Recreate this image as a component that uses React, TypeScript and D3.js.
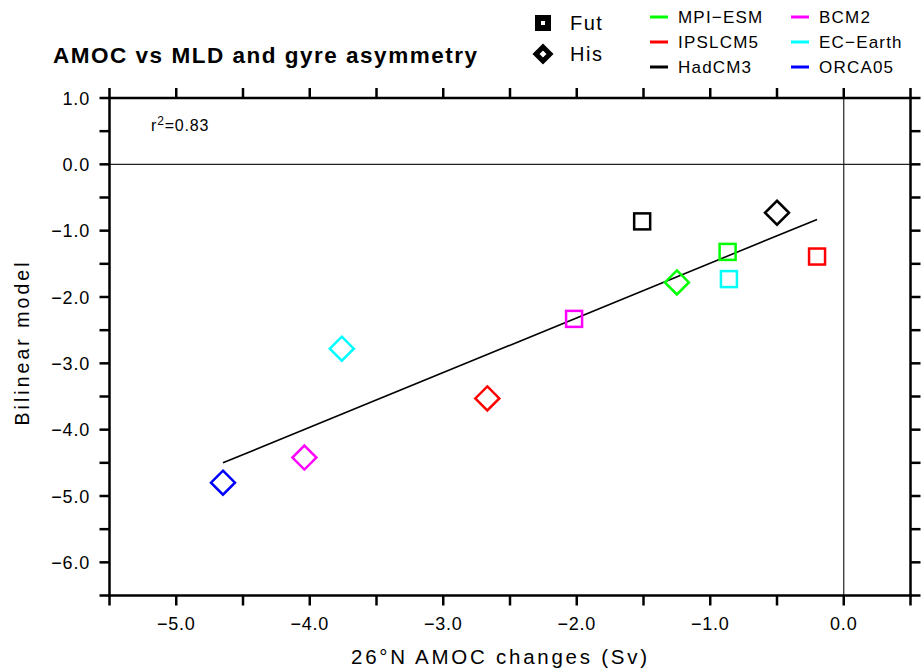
import React from 'react';
import * as d3 from 'd3';

// models and their colours
const models = ['MPI-ESM', 'IPSLCM5', 'HadCM3', 'BCM2', 'EC-Earth', 'ORCA05'];
const modelColors = ['#00ff00', '#ff0000', '#000000', '#ff00ff', '#00ffff', '#0000ff'];

// future (squares) – ORCA05 has no future run
const futX = [-0.87, -0.2, -1.51, -2.02, -0.86, null];
const futY = [-1.32, -1.39, -0.86, -2.33, -1.73, null];

// historical (diamonds)
const hisX = [-1.25, -2.67, -0.5, -4.04, -3.76, -4.65];
const hisY = [-1.78, -3.53, -0.73, -4.42, -2.78, -4.8];

// regression line end points
const fitX = [-4.65, -0.2];
const fitY = [-4.5, -0.83];

const xTicks = [-5, -4, -3, -2, -1, 0];
const yTicks = [1, 0, -1, -2, -3, -4, -5, -6];
const rSquared = '0.83';

const W = 923;
const H = 672;
const FONT = "'Liberation Sans', Arial, sans-serif";

export default function App() {
  const x = d3.scaleLinear().domain([-5.5, 0.5]).range([109.5, 910.5]);
  const y = d3.scaleLinear().domain([1, -6.5]).range([98, 595.5]);

  const minorX = d3.range(-5.5, 0.51, 0.5);
  const minorY = d3.range(-6.5, 1.01, 0.5);
  const fmt = (v: number) => d3.format('.1f')(v).replace('-', '\u2212');

  const line = d3.line<number>().x((d) => x(fitX[d])).y((d) => y(fitY[d]));

  const sq = 8;
  const dm = 12;
  const diamond = (cx: number, cy: number, r: number) =>
    `M${cx},${cy - r}L${cx + r},${cy}L${cx},${cy + r}L${cx - r},${cy}Z`;

  const [x0, x1] = x.range();
  const [y0, y1] = y.range();

  return (
    <svg width={W} height={H} style={{ position: 'absolute', left: 0, top: 0, background: '#fff' }}
      fontFamily={FONT}>
      {/* title */}
      <text x={53} y={63} fontSize={22.5} fontWeight="bold" textLength={424} lengthAdjust="spacing">
        AMOC vs MLD and gyre asymmetry
      </text>

      {/* symbol legend */}
      <rect x={543 - 5} y={23 - 5} width={10} height={10} fill="none" stroke="#000" strokeWidth={6} />
      <text x={570} y={30} fontSize={20} letterSpacing={1.5}>Fut</text>
      <path d={diamond(543, 54, 7)} fill="none" stroke="#000" strokeWidth={5} strokeLinejoin="miter" />
      <text x={570} y={61} fontSize={20} letterSpacing={1.5}>His</text>

      {/* model legend */}
      {models.map((m, i) => {
        const col = Math.floor(i / 3);
        const row = i % 3;
        const lx = col === 0 ? 650 : 791;
        const ly = [17, 42, 67][row];
        return (
          <g key={m}>
            <line x1={lx} x2={lx + 18} y1={ly} y2={ly} stroke={modelColors[i]} strokeWidth={3} />
            <text x={lx + 28} y={ly + 6} fontSize={17} letterSpacing={1.2}>{m.replace('-', '\u2212')}</text>
          </g>
        );
      })}

      {/* zero lines */}
      <line x1={x0} x2={x1} y1={y(0)} y2={y(0)} stroke="#222" strokeWidth={1.2} />
      <line x1={x(0)} x2={x(0)} y1={y0} y2={y1} stroke="#222" strokeWidth={1.2} />

      {/* regression line */}
      <path d={line([0, 1]) || ''} fill="none" stroke="#000" strokeWidth={1.6} />

      {/* historical diamonds */}
      {hisX.map((v, i) => (
        <path key={'h' + i} d={diamond(x(v), y(hisY[i]), dm)} fill="none" stroke={modelColors[i]} strokeWidth={2.5} />
      ))}

      {/* future squares */}
      {futX.map((v, i) =>
        v == null ? null : (
          <rect key={'f' + i} x={x(v) - sq} y={y(futY[i] as number) - sq} width={sq * 2} height={sq * 2}
            fill="none" stroke={modelColors[i]} strokeWidth={2.5} />
        )
      )}

      {/* ticks */}
      {minorX.map((v) => (
        <g key={'tx' + v}>
          <line x1={x(v)} x2={x(v)} y1={y1} y2={y1 + 10} stroke="#000" strokeWidth={2.5} />
          <line x1={x(v)} x2={x(v)} y1={y0} y2={y0 - 10} stroke="#000" strokeWidth={2.5} />
        </g>
      ))}
      {minorY.map((v) => (
        <g key={'ty' + v}>
          <line x1={x0} x2={x0 - 10} y1={y(v)} y2={y(v)} stroke="#000" strokeWidth={2.5} />
          <line x1={x1} x2={x1 + 10} y1={y(v)} y2={y(v)} stroke="#000" strokeWidth={2.5} />
        </g>
      ))}

      {/* frame */}
      <rect x={x0} y={y0} width={x1 - x0} height={y1 - y0} fill="none" stroke="#000" strokeWidth={2.5} />

      {/* tick labels */}
      {xTicks.map((v) => (
        <text key={'lx' + v} x={x(v)} y={630} fontSize={18} textAnchor="middle" letterSpacing={0.8}>{fmt(v)}</text>
      ))}
      {yTicks.map((v) => (
        <text key={'ly' + v} x={90} y={y(v) + 6.5} fontSize={18} textAnchor="end" letterSpacing={0.8}>{fmt(v)}</text>
      ))}

      {/* axis titles */}
      <text x={499} y={664} fontSize={20.5} textAnchor="middle" textLength={296} lengthAdjust="spacing">
        26°N AMOC changes (Sv)
      </text>
      <text transform="translate(29,344) rotate(-90)" fontSize={19.5} textAnchor="middle" textLength={163}
        lengthAdjust="spacing">
        Bilinear model
      </text>

      {/* r squared */}
      <text x={151} y={131} fontSize={16} letterSpacing={0.8}>
        r<tspan dy={-6} fontSize={12}>2</tspan><tspan dy={6}>={rSquared}</tspan>
      </text>
    </svg>
  );
}
